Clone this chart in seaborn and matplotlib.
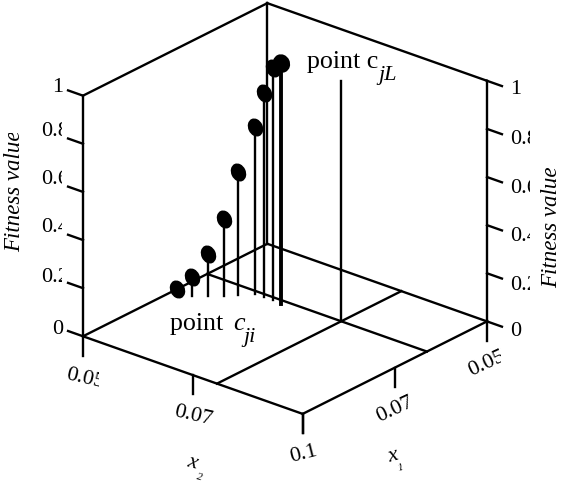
import numpy as np
import pandas as pd
import seaborn as sns
import matplotlib
matplotlib.use("Agg")
import matplotlib.pyplot as plt
from matplotlib.markers import MarkerStyle
from matplotlib.transforms import Affine2D, Bbox

# ---- data ----
x2_vals = [.0500, .0537, .0558, .0580, .0598, .0617, .0636, .0656, .0677]
x1_vals = [.0746, .0749, .0731, .0713, .0695, .0674, .0671, .0671, .0675]
fit_vals = [0.0, .079, .174, .32, .512, .695, .846, .963, 1.0]
pt_x2 = 0.0805
pt_x1 = 0.0663
pt_fit = 1.0
fit_ticks = [0, 0.2, 0.4, 0.6, 0.8, 1]
x_ticks = [0.05, 0.075, 0.1]
fit_labels = ["1", "0.8", "0.6", "0.4", "0.2", "0"]

df = pd.DataFrame({"x2": x2_vals, "x1": x1_vals, "fit": fit_vals})

sns.set_theme(style="white", font="Liberation Serif")
W, H = 563, 486
fig = plt.figure(figsize=(W / 100, H / 100), dpi=100)
ax = fig.add_axes([-3.07 / W, 27.9 / H, 1, 1], projection="3d", proj_type="ortho")
ax.view_init(elev=24.9, azim=-50)
ax.set_box_aspect((1, 1, 0.925), zoom=0.968)
ax.set_xlim(0.05, 0.1)
ax.set_ylim(0.1, 0.05)
ax.set_zlim(0, 1)
ax.set_axis_off()

K = "black"
LW = 1.7


def seg(p, q, lw=LW):
    ax.plot([p[0], q[0]], [p[1], q[1]], [p[2], q[2]], color=K, lw=lw,
            solid_capstyle="projecting", clip_on=False)


xa, xb = 0.05, 0.1
ya, yb = 0.1, 0.05
# floor
seg((xa, ya, 0), (xb, ya, 0))
seg((xb, ya, 0), (xb, yb, 0))
seg((xb, yb, 0), (xa, yb, 0))
seg((xa, yb, 0), (xa, ya, 0))
# walls
seg((xa, ya, 0), (xa, ya, 1))
seg((xb, yb, 0), (xb, yb, 1))
seg((xa, yb, 0), (xa, yb, 1))
seg((xa, ya, 1), (xa, yb, 1))
seg((xa, yb, 1), (xb, yb, 1))
# floor grid through point c_jL
seg((pt_x2, ya, 0), (pt_x2, yb, 0))
seg((xa, pt_x1, 0), (xb, pt_x1, 0))
seg((pt_x2, pt_x1, 0), (pt_x2, pt_x1, pt_fit))
# ticks
tz = 0.0034
for z in fit_ticks:
    seg((xa, ya, z), (xa - tz, ya, z))
    seg((xb, yb, z), (xb + tz, yb, z))
dn = 0.08
for t in x_ticks:
    seg((t, ya, 0), (t, ya, -dn))
for t in x_ticks:
    seg((xb, t, 0), (xb, t, -dn))

# stems and markers
for i, r in df.iterrows():
    if r.fit > 0:
        seg((r.x2, r.x1, 0), (r.x2, r.x1, r.fit),
            lw=2.8 if i == len(df) - 1 else LW)
tilted = MarkerStyle("o", transform=Affine2D().scale(0.78, 1).rotate_deg(25))
rounder = MarkerStyle("o", transform=Affine2D().scale(0.9, 1).rotate_deg(25))
ax.plot(df.x2[:-1], df.x1[:-1], df.fit[:-1], ls="", marker=tilted, ms=13.5,
        color=K, mew=0, clip_on=False)
ax.plot(df.x2[-1:], df.x1[-1:], df.fit[-1:], ls="", marker=rounder, ms=13.5,
        color=K, mew=0, clip_on=False)


def label(px, py, s, size=16, rot=0, style="normal", clip=None, ha="center", va="center"):
    t = fig.text(px / W, 1 - py / H, s, fontsize=size, rotation=rot, style=style,
                 ha=ha, va=va, color=K, family="Liberation Serif",
                 rotation_mode="anchor")
    if clip is not None:
        x0, y0, x1, y1 = clip
        t.set_clip_box(Bbox([[x0, H - y1], [x1, H - y0]]))
        t.set_clip_on(True)
    return t


# left z tick labels
for txt, y in zip(fit_labels, [87, 131, 180, 228, 278, 329]):
    if "." in txt:
        label(41, y, txt, ha="left", clip=(0, 0, 62, H))
    else:
        label(63, y, txt, ha="right")
# right z tick labels
for txt, y in zip(fit_labels, [90, 139, 188, 236, 285, 332]):
    label(510, y, txt, ha="left", clip=(0, 0, 530, H))

label(15, 252, "Fitness value", size=16.5, style="italic", rot=90, ha="left", clip=(0, 133, W, H))
label(552, 288, "Fitness value", size=16.5, style="italic", rot=90, ha="left")

# bottom tick labels
label(85, 379, "0.05", rot=-13, clip=(0, 0, 99, H))
label(193, 416, "0.07", rot=-13)
label(487, 364, "0.05", rot=25, clip=(0, 0, 501, H))
label(395, 410, "0.07", rot=25)
label(304, 454, "0.1", rot=14)
label(192, 463, "x", style="italic", rot=-15)
label(199, 477, "2", size=8, style="italic", rot=-15)
label(393, 456, "x", style="italic", rot=15)
label(401, 468, "1", size=8, style="italic", rot=15)

# annotations
label(307, 68, "point c", size=18.7, ha="left", va="baseline")
label(378, 80, "jL", size=16, style="italic", ha="left", va="baseline")
label(170, 330, "point ", size=18.7, ha="left", va="baseline")
label(233, 330, "c", size=18.7, style="italic", ha="left", va="baseline")
label(243, 342, "ji", size=16, style="italic", ha="left", va="baseline")

fig.savefig("out.png", dpi=100)
